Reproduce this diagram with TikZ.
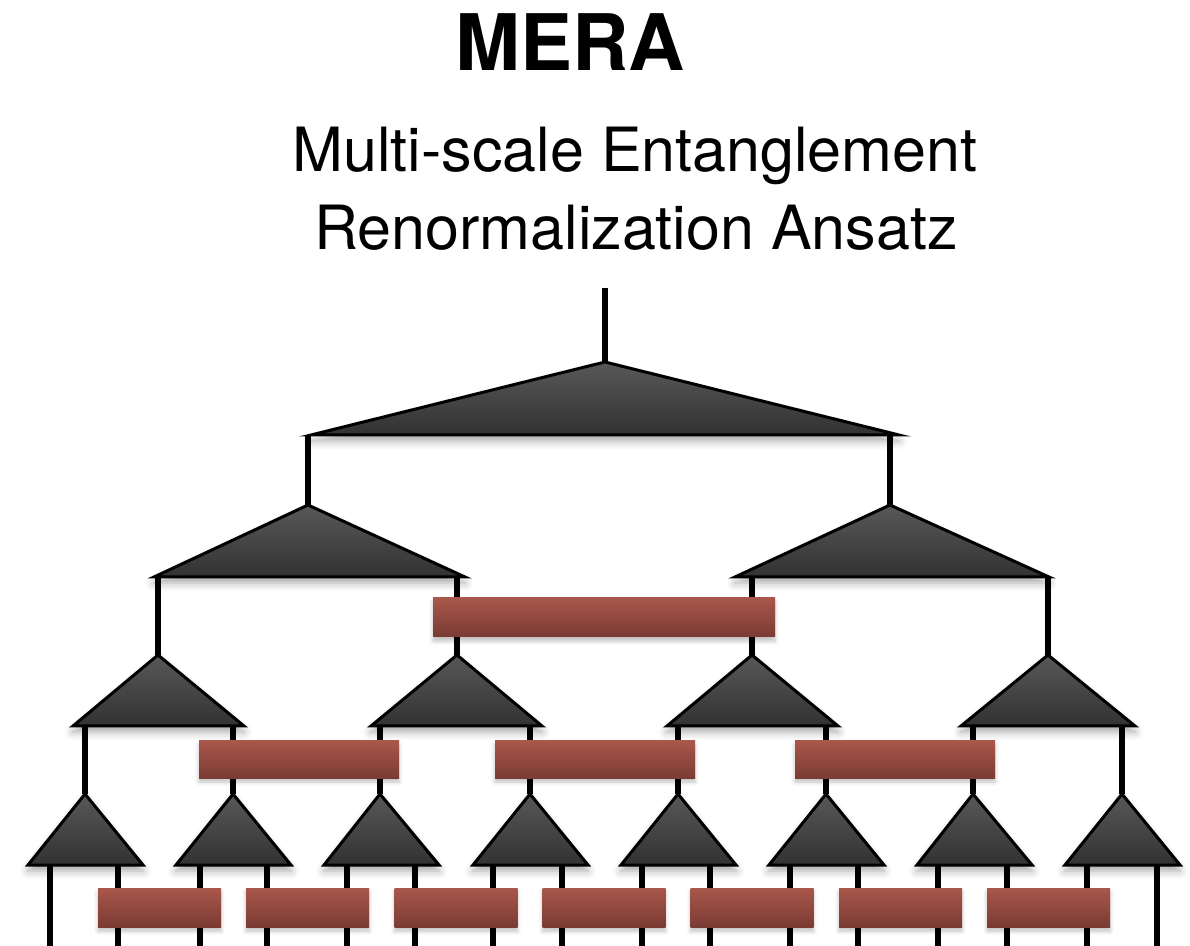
\documentclass[tikz,border=0pt]{standalone}
\usepackage{fontspec}
\setmainfont{TeX Gyre Heros}
\usetikzlibrary{shadows.blur}
\definecolor{tritop}{HTML}{585858}
\definecolor{tribot}{HTML}{323232}
\definecolor{utop}{HTML}{A9574B}
\definecolor{ubot}{HTML}{7A3B33}
\tikzset{
  leg/.style={line width=2.6pt, line cap=butt},
  tensor/.style={top color=tritop, bottom color=tribot, draw=black,
    line width=1.5pt, line join=miter,
    blur shadow={shadow xshift=0pt, shadow yshift=-3pt,
      shadow blur radius=4pt, shadow opacity=35}},
  unitary/.style={rectangle, inner sep=0pt, top color=utop, bottom color=ubot,
    blur shadow={shadow xshift=0pt, shadow yshift=-2pt,
      shadow blur radius=2pt, shadow opacity=25}},
  wideu/.style={unitary, minimum width=171pt, minimum height=19.5pt},
  midu/.style={unitary, minimum width=100pt, minimum height=18.5pt},
  smallu/.style={unitary, minimum width=61.5pt, minimum height=19.5pt},
}
\begin{document}
\begin{tikzpicture}[x=0.5pt, y=-0.5pt]
\useasboundingbox (0,0) rectangle (1190,946);

% titles
\node[anchor=base, inner sep=0pt, font=\bfseries\fontsize{39}{39}\selectfont] (title) at (570,71) {MERA};
\node[anchor=base, inner sep=0pt, font=\fontsize{30.5}{36}\selectfont] (sub1) at (635,172) {Multi-scale Entanglement};
\node[anchor=base, inner sep=0pt, font=\fontsize{30.5}{36}\selectfont] (sub2) at (636,250) {Renormalization Ansatz};

% apexes of the isometries (name/x/y)
\foreach \n/\x/\y in {T0/605/362,
    T1a/308/505, T1b/890/505,
    T2a/158/655, T2b/457/655, T2c/752/655, T2d/1048/655,
    T3a/85/794, T3b/233/794, T3c/380/794, T3d/530/794,
    T3e/678/794, T3f/826/794, T3g/973/794, T3h/1122/794}
  \coordinate (\n) at (\x,\y);

% open end at the top
\coordinate (top) at (605,288);
\draw[leg] (top) -- (T0);

% legs leaving each layer: start on the parent base, end at the child apex
\foreach \c/\y in {T1a/435, T1b/435,
    T2a/577, T2b/577, T2c/577, T2d/577,
    T3a/726, T3b/726, T3c/726, T3d/726, T3e/726, T3f/726, T3g/726, T3h/726} {
  \coordinate (\c-up) at (\c |- 0,\y);
  \draw[leg] (\c-up) -- (\c);
}

% physical legs at the bottom
\foreach \i/\x in {1/50, 2/118, 3/200, 4/267, 5/347, 6/415, 7/493, 8/562,
    9/642, 10/710, 11/790, 12/858, 13/938, 14/1007, 15/1087, 16/1157} {
  \coordinate (p\i-up) at (\x,865);
  \coordinate (p\i) at (\x,950);
  \draw[leg] (p\i-up) -- (p\i);
}

% isometries (apex/left x/right x/base y); the mitred corners reach a little further
\foreach \n/\l/\r/\b in {T0/311/899/435,
    T1a/154/465/577, T1b/735/1049/577,
    T2a/73/244/726, T2b/371/542/726, T2c/667/838/726, T2d/961/1135/726,
    T3a/28/143/865, T3b/176/291/865, T3c/324/439/865, T3d/473/588/865,
    T3e/621/736/865, T3f/769/884/865, T3g/917/1032/865, T3h/1065/1180/865}
  \path[tensor] (\n) -- (\l,\b) -- (\r,\b) -- cycle;

% disentanglers
\node[wideu] (U1) at (604,617.5) {};
\node[midu] (U2a) at (299,759.5) {};
\node[midu] (U2b) at (595,759.5) {};
\node[midu] (U2c) at (895,759.5) {};
\foreach \i/\x in {a/159.5, b/307.5, c/456, d/604, e/752, f/900.5, g/1048.5}
  \node[smallu] (U3\i) at (\x,907.5) {};
\end{tikzpicture}
\end{document}
